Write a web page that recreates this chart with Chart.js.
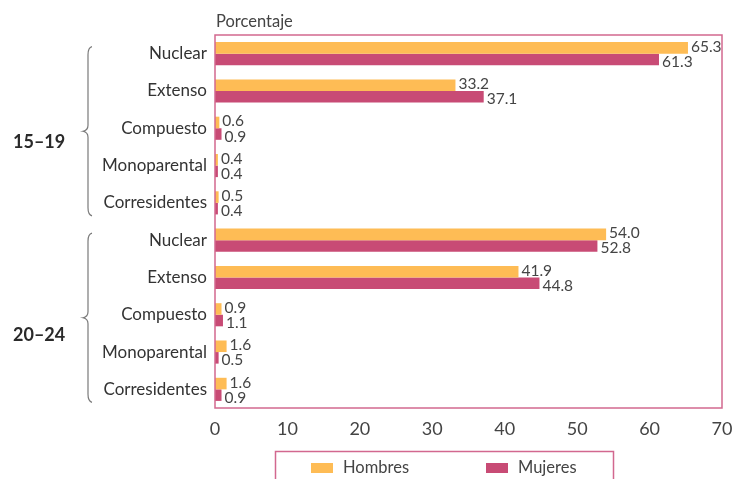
<!DOCTYPE html>
<html lang="es">
<head>
<meta charset="utf-8">
<title>Tipo de hogar por grupo de edad y sexo</title>
<script src="https://cdn.jsdelivr.net/npm/chart.js@4/dist/chart.umd.min.js"></script>
<style>
  html, body { margin: 0; padding: 0; background: #ffffff; }
  #wrap { width: 738px; height: 479px; position: relative; }
</style>
</head>
<body>
<div id="wrap"><canvas id="chart" width="738" height="479"></canvas></div>
<script>
// Household types, repeated for each age group
const householdTypes = ['Nuclear', 'Extenso', 'Compuesto', 'Monoparental', 'Corresidentes'];
const ageGroups = ['15–19', '20–24'];

// Percentages (15–19 first, then 20–24)
const hombres = [65.3, 33.2, 0.6, 0.4, 0.5, 54.0, 41.9, 0.9, 1.6, 1.6];
const mujeres = [61.3, 37.1, 0.9, 0.4, 0.4, 52.8, 44.8, 1.1, 0.5, 0.9];

const seriesNames = ['Hombres', 'Mujeres'];
const xTicks = [0, 10, 20, 30, 40, 50, 60, 70];
const axisTitle = 'Porcentaje';

const COLORS = { hombres: '#FEBC55', mujeres: '#C84B75', frame: '#D2688F', text: '#444444', brace: '#7a7a7a' };
const FONT = 'Lato, "Open Sans", sans-serif';

const labels = [];
ageGroups.forEach(() => householdTypes.forEach(t => labels.push(t)));

// Vertical nudges for the age-group captions relative to their braces
const groupCaptionShift = [11, 17];

const decorations = {
  id: 'decorations',
  afterDatasetsDraw(chart) {
    const { ctx, chartArea: a } = chart;
    const yScale = chart.scales.y;
    ctx.save();

    // Value labels at the end of each bar
    ctx.font = '15.5px ' + FONT;
    ctx.fillStyle = COLORS.text;
    ctx.textAlign = 'left';
    ctx.textBaseline = 'middle';
    chart.data.datasets.forEach((ds, di) => {
      const meta = chart.getDatasetMeta(di);
      meta.data.forEach((bar, i) => {
        const dy = di === 0 ? -1 : 2.5;
        ctx.fillText(ds.data[i].toFixed(1), bar.x + 3, bar.y + dy);
      });
    });

    // Frame around the plot area
    ctx.strokeStyle = COLORS.frame;
    ctx.lineWidth = 1.5;
    ctx.strokeRect(a.left, a.top, a.right - a.left, a.bottom - a.top);

    // Axis title above the plot
    ctx.font = '16.5px ' + FONT;
    ctx.fillStyle = COLORS.text;
    ctx.textBaseline = 'middle';
    ctx.fillText(axisTitle, a.left + 1, 22);

    // Braces and captions for the age groups
    const n = householdTypes.length;
    ageGroups.forEach((g, gi) => {
      const first = yScale.getPixelForValue(gi * n);
      const last = yScale.getPixelForValue(gi * n + n - 1);
      const top = first - 7;
      const bot = last + 13;
      const mid = (top + bot) / 2;
      const x = 88;
      ctx.strokeStyle = COLORS.brace;
      ctx.lineWidth = 1.2;
      ctx.beginPath();
      ctx.moveTo(x + 4, top);
      ctx.quadraticCurveTo(x, top + 1, x, top + 8);
      ctx.lineTo(x, mid - 6);
      ctx.quadraticCurveTo(x, mid - 1, x - 5, mid);
      ctx.quadraticCurveTo(x, mid + 1, x, mid + 6);
      ctx.lineTo(x, bot - 8);
      ctx.quadraticCurveTo(x, bot - 1, x + 4, bot);
      ctx.stroke();

      ctx.font = 'bold 18px ' + FONT;
      ctx.fillStyle = '#2a2a2a';
      ctx.textAlign = 'left';
      ctx.textBaseline = 'middle';
      ctx.fillText(g, 13, mid + groupCaptionShift[gi]);
    });

    // Legend box (open at the bottom edge of the page)
    ctx.strokeStyle = COLORS.frame;
    ctx.lineWidth = 1.5;
    ctx.beginPath();
    ctx.moveTo(275.5, 482);
    ctx.lineTo(275.5, 451.5);
    ctx.lineTo(613.5, 451.5);
    ctx.lineTo(613.5, 482);
    ctx.stroke();

    const legendItems = [
      { x: 311, color: COLORS.hombres, text: seriesNames[0] },
      { x: 486, color: COLORS.mujeres, text: seriesNames[1] }
    ];
    ctx.font = '16.5px ' + FONT;
    legendItems.forEach(it => {
      ctx.fillStyle = it.color;
      ctx.fillRect(it.x, 463, 22, 10);
      ctx.fillStyle = COLORS.text;
      ctx.textAlign = 'left';
      ctx.textBaseline = 'middle';
      ctx.fillText(it.text, it.x + 32, 468);
    });

    ctx.restore();
  }
};

new Chart(document.getElementById('chart'), {
  type: 'bar',
  data: {
    labels: labels,
    datasets: [
      { label: seriesNames[0], data: hombres, backgroundColor: COLORS.hombres },
      { label: seriesNames[1], data: mujeres, backgroundColor: COLORS.mujeres }
    ]
  },
  options: {
    indexAxis: 'y',
    responsive: false,
    animation: false,
    devicePixelRatio: 1,
    layout: { padding: { top: 35, right: 0, bottom: 0, left: 0 } },
    datasets: { bar: { barPercentage: 1, categoryPercentage: 0.62 } },
    plugins: {
      legend: { display: false },
      tooltip: { enabled: false },
      title: { display: false }
    },
    scales: {
      x: {
        min: 0,
        max: 70,
        afterBuildTicks(scale) { scale.ticks = xTicks.map(v => ({ value: v })); },
        afterFit(scale) { scale.height = 71; scale.paddingRight = 16; scale.paddingLeft = 0; },
        grid: { display: false, drawTicks: false },
        border: { display: false },
        ticks: {
          padding: 10,
          color: COLORS.text,
          font: { family: FONT, size: 18 }
        }
      },
      y: {
        afterFit(scale) { scale.width = 215; },
        grid: { display: false, drawTicks: false },
        border: { display: false },
        ticks: {
          padding: 8,
          color: '#333333',
          font: { family: FONT, size: 17 },
          autoSkip: false
        }
      }
    }
  },
  plugins: [decorations]
});
</script>
</body>
</html>
